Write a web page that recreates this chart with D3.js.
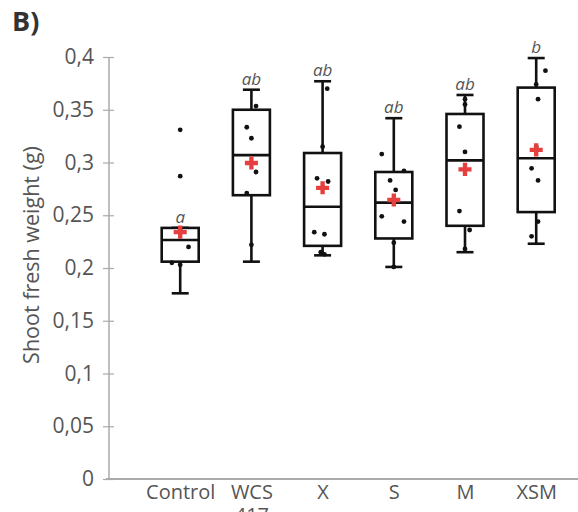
<!DOCTYPE html>
<html>
<head>
<meta charset="utf-8">
<script src="https://cdn.jsdelivr.net/npm/d3@7"></script>
<style>
  html, body { margin: 0; padding: 0; background: #fff; }
  svg { display: block; }
</style>
</head>
<body>
<svg id="chart" width="578" height="512"></svg>
<script>
// ---- data ----
const categories = ["Control", "WCS 417", "X", "S", "M", "XSM"];
const whiskerLow  = [0.176, 0.206, 0.212, 0.201, 0.215, 0.223];
const q1          = [0.206, 0.269, 0.221, 0.228, 0.240, 0.253];
const medians     = [0.2265, 0.307, 0.258, 0.262, 0.302, 0.304];
const q3          = [0.238, 0.350, 0.309, 0.291, 0.346, 0.371];
const whiskerHigh = [0.238, 0.369, 0.377, 0.342, 0.364, 0.399];
const means       = [0.234, 0.2995, 0.276, 0.2645, 0.2935, 0.312];
const letters     = ["a", "ab", "ab", "ab", "ab", "b"];
// individual observations: [value, horizontal jitter (fraction of half box width)]
const pointsControl = [[0.331,0],[0.287,0],[0.236,0],[0.220,0.45],[0.205,-0.45],[0.203,0]];
const pointsWCS     = [[0.3535,0.25],[0.3334,-0.25],[0.323,0],[0.291,0.25],[0.271,-0.25],[0.222,0]];
const pointsX       = [[0.370,0.25],[0.315,0],[0.285,-0.3],[0.282,0.3],[0.234,-0.45],[0.232,0.1],[0.215,-0.1],[0.213,0.1]];
const pointsS       = [[0.308,-0.65],[0.292,0.55],[0.283,-0.2],[0.274,0.1],[0.249,-0.65],[0.244,0.55],[0.224,0],[0.201,0]];
const pointsM       = [[0.360,0],[0.355,0],[0.334,-0.3],[0.310,0],[0.254,-0.3],[0.236,0.25],[0.218,0]];
const pointsXSM     = [[0.387,0.5],[0.374,0],[0.360,0.1],[0.315,0],[0.2945,-0.25],[0.283,0.1],[0.244,0.1],[0.230,-0.25]];
const allPoints = [pointsControl, pointsWCS, pointsX, pointsS, pointsM, pointsXSM];
const yTicks = [0, 0.05, 0.1, 0.15, 0.2, 0.25, 0.3, 0.35, 0.4];
const yLabel = "Shoot fresh weight (g)";
const panelLabel = "B)";

// ---- layout ----
const svg = d3.select("#chart");
const axisX = 109, axisBottom = 479, axisTop = 57;
const step = 71.2;
const x = d3.scaleLinear().domain([0, 1]).range([axisX, axisX + step]);
const y = d3.scaleLinear().domain([0, 0.4]).range([axisBottom, axisTop]);
const boxW = 37, capW = 17;
const font = "'Open Sans', sans-serif";
const textCol = "#555";

// panel label
svg.append("text").attr("x", 12).attr("y", 31)
  .attr("font-family", font).attr("font-weight", 700).attr("font-size", 27)
  .attr("fill", "#333").text(panelLabel);

// y axis
const yAxis = d3.axisLeft(y).tickValues(yTicks).tickSize(6).tickPadding(10)
  .tickFormat(d => String(d).replace(".", ","));
const gy = svg.append("g").attr("transform", `translate(${axisX},0)`).call(yAxis);
gy.select(".domain").attr("stroke", "#aaa").attr("stroke-width", 1.5)
  .attr("d", `M0,${axisTop}V${axisBottom}`);
gy.selectAll(".tick line").attr("x1", 5).attr("x2", -6).attr("stroke", "#aaa").attr("stroke-width", 1.2);
gy.selectAll(".tick text").attr("font-family", font).attr("font-size", 21)
  .attr("fill", textCol).attr("x", -15);

// x axis
const xAxis = d3.axisBottom(x).tickValues(categories.map((c, i) => i + 1))
  .tickSize(0).tickPadding(9).tickFormat("");
const gx = svg.append("g").attr("transform", `translate(0,${axisBottom})`).call(xAxis);
gx.select(".domain").attr("stroke", "#aaa").attr("stroke-width", 2.2)
  .attr("d", `M${axisX - 3},0H578`);
gx.selectAll(".tick").each(function(d, i) {
  const parts = categories[i].split(" ");
  const t = d3.select(this).append("text").attr("font-family", font).attr("font-size", 20)
    .attr("fill", textCol).attr("text-anchor", "middle").attr("y", 20);
  parts.forEach((p, k) => t.append("tspan").attr("x", 0).attr("dy", k === 0 ? 0 : 23).text(p));
});

// y label
svg.append("text")
  .attr("transform", `translate(39,${(140 + 370) / 2}) rotate(-90)`)
  .attr("text-anchor", "middle").attr("font-family", font).attr("font-size", 21.5)
  .attr("fill", textCol).text(yLabel);

// boxes
const g = svg.append("g");
categories.forEach((c, i) => {
  const cx = x(i + 1);
  const gg = g.append("g");
  // whiskers
  gg.append("line").attr("x1", cx).attr("x2", cx).attr("y1", y(whiskerLow[i])).attr("y2", y(q1[i]))
    .attr("stroke", "#111").attr("stroke-width", 2.6);
  gg.append("line").attr("x1", cx).attr("x2", cx).attr("y1", y(whiskerHigh[i])).attr("y2", y(q3[i]))
    .attr("stroke", "#111").attr("stroke-width", 2.6);
  [whiskerLow[i], whiskerHigh[i]].forEach(v => {
    gg.append("line").attr("x1", cx - capW / 2).attr("x2", cx + capW / 2).attr("y1", y(v)).attr("y2", y(v))
      .attr("stroke", "#111").attr("stroke-width", 2.6);
  });
  // box
  gg.append("rect").attr("x", cx - boxW / 2).attr("width", boxW)
    .attr("y", y(q3[i])).attr("height", y(q1[i]) - y(q3[i]))
    .attr("fill", "#fff").attr("stroke", "#111").attr("stroke-width", 2.6);
  gg.append("line").attr("x1", cx - boxW / 2).attr("x2", cx + boxW / 2)
    .attr("y1", y(medians[i])).attr("y2", y(medians[i]))
    .attr("stroke", "#111").attr("stroke-width", 2.6);
  // points
  gg.selectAll("circle").data(allPoints[i]).join("circle")
    .attr("cx", d => cx + d[1] * boxW / 2).attr("cy", d => y(d[0])).attr("r", 2.4)
    .attr("fill", "#111");
  // mean
  gg.append("path").attr("d", d3.symbol(d3.symbolCross).size(95)())
    .attr("transform", `translate(${cx},${y(means[i])})`).attr("fill", "#e5403f");
  // letter
  gg.append("text").attr("x", cx).attr("y", y(whiskerHigh[i]) - 5)
    .attr("text-anchor", "middle").attr("font-family", font).attr("font-style", "italic")
    .attr("font-size", 17).attr("fill", textCol).text(letters[i]);
});
</script>
</body>
</html>
